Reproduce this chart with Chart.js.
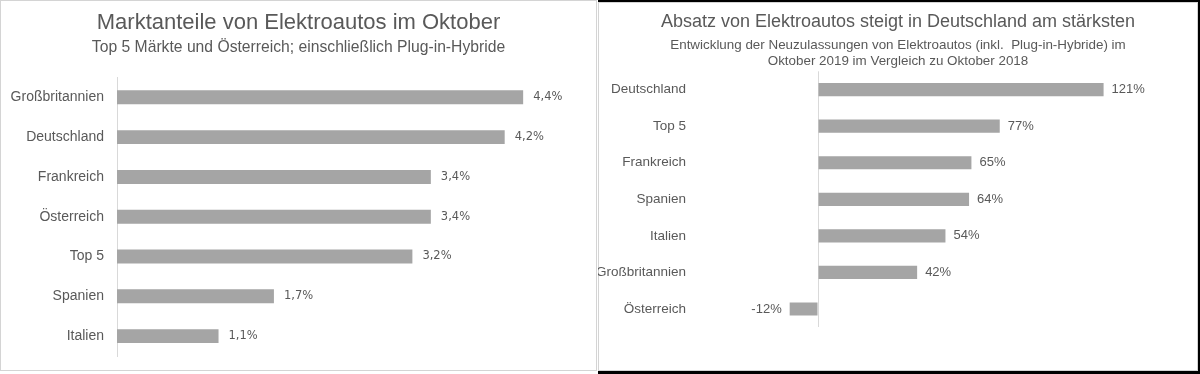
<!DOCTYPE html>
<html>
<head>
<meta charset="utf-8">
<script src="https://cdn.jsdelivr.net/npm/chart.js@4"></script>
<style>
  html, body { margin: 0; padding: 0; background: #ffffff; }
  body { width: 1200px; height: 374px; position: relative; overflow: hidden; }
  .abs { position: absolute; }
  #leftFrame { left: 0; top: 0; width: 597px; height: 371px; border: 1px solid #d4d4d4; box-sizing: border-box; background: #fff; }
  #rightBlack { left: 598px; top: 0; width: 602px; height: 374px; background: #000; }
  #rightFrame { left: 598px; top: 2px; width: 600px; height: 369px; border: 1px solid #d4d4d4; box-sizing: border-box; background: #fff; }
  canvas { position: absolute; }
  #leftChart { left: 0; top: 0; }
  #rightChart { left: 598px; top: 0; }
</style>
</head>
<body>
<div id="leftFrame" class="abs"></div>
<div id="rightBlack" class="abs"></div>
<div id="rightFrame" class="abs"></div>
<canvas id="leftChart" width="597" height="371"></canvas>
<canvas id="rightChart" width="600" height="371"></canvas>
<script>
// ---- Data ----
const leftTitle = 'Marktanteile von Elektroautos im Oktober';
const leftSubtitle = 'Top 5 Märkte und Österreich; einschließlich Plug-in-Hybride';
const leftCategories = ['Großbritannien', 'Deutschland', 'Frankreich', 'Österreich', 'Top 5', 'Spanien', 'Italien'];
const leftValues = [4.4, 4.2, 3.4, 3.4, 3.2, 1.7, 1.1];

const rightTitle = 'Absatz von Elektroautos steigt in Deutschland am stärksten';
const rightSubtitle = ['Entwicklung der Neuzulassungen von Elektroautos (inkl.  Plug-in-Hybride) im', 'Oktober 2019 im Vergleich zu Oktober 2018'];
const rightCategories = ['Deutschland', 'Top 5', 'Frankreich', 'Spanien', 'Italien', 'Großbritannien', 'Österreich'];
const rightValues = [121, 77, 65, 64, 54, 42, -12];

// ---- Styling ----
const TEXT = '#595959';
const BAR = '#a5a5a5';
const AXIS = '#d9d9d9';

function valueLabelPlugin(id, fmt, font, offset) {
  return {
    id: id,
    afterDatasetsDraw(chart) {
      const ctx = chart.ctx;
      const meta = chart.getDatasetMeta(0);
      const data = chart.data.datasets[0].data;
      ctx.save();
      ctx.font = font;
      ctx.fillStyle = TEXT;
      ctx.textBaseline = 'middle';
      meta.data.forEach((el, i) => {
        const v = data[i];
        if (v >= 0) {
          ctx.textAlign = 'left';
          ctx.fillText(fmt(v), el.x + offset, el.y);
        } else {
          ctx.textAlign = 'right';
          ctx.fillText(fmt(v), el.x - offset, el.y);
        }
      });
      ctx.restore();
    }
  };
}

function fixY(width) {
  return (scale) => {
    scale.width = width;
    scale.paddingTop = 0;
    scale.paddingBottom = 0;
  };
}

Chart.defaults.font.family = '"Liberation Sans", Arial, sans-serif';
Chart.defaults.color = TEXT;

// ---- Left chart ----
new Chart(document.getElementById('leftChart'), {
  type: 'bar',
  data: {
    labels: leftCategories,
    datasets: [{
      data: leftValues,
      backgroundColor: BAR,
      borderWidth: 0,
      categoryPercentage: 1,
      barPercentage: 0.35
    }]
  },
  options: {
    indexAxis: 'y',
    responsive: false,
    animation: false,
    devicePixelRatio: 1,
    layout: { padding: { left: 0, right: 0, top: 0, bottom: 15 } },
    plugins: {
      legend: { display: false },
      tooltip: { enabled: false },
      title: {
        display: true,
        text: leftTitle,
        color: TEXT,
        font: { size: 22, weight: 'normal', lineHeight: 1.2 },
        padding: { top: 10, bottom: 0 }
      },
      subtitle: {
        display: true,
        text: leftSubtitle,
        color: TEXT,
        font: { size: 15.7, weight: 'normal', lineHeight: 1.2 },
        padding: { top: 1.9, bottom: 20.3 }
      }
    },
    scales: {
      x: {
        display: false,
        min: 0,
        max: 5.2
      },
      y: {
        grid: { display: false, drawTicks: false },
        border: { display: true, color: AXIS, width: 1 },
        ticks: { color: TEXT, font: { size: 14 }, padding: 13 },
        afterFit: fixY(117)
      }
    }
  },
  plugins: [valueLabelPlugin('leftLabels', v => v.toFixed(1).replace('.', ',') + '%', '11.5px "DejaVu Sans", Verdana, sans-serif', 10)]
});

// ---- Right chart ----
new Chart(document.getElementById('rightChart'), {
  type: 'bar',
  data: {
    labels: rightCategories,
    datasets: [{
      data: rightValues,
      backgroundColor: BAR,
      borderWidth: 0,
      categoryPercentage: 1,
      barPercentage: 0.36
    }]
  },
  options: {
    indexAxis: 'y',
    responsive: false,
    animation: false,
    devicePixelRatio: 1,
    layout: { padding: { left: 0, right: 0, top: 0, bottom: 43.7 } },
    plugins: {
      legend: { display: false },
      tooltip: { enabled: false },
      title: {
        display: true,
        text: rightTitle,
        color: TEXT,
        font: { size: 18, weight: 'normal', lineHeight: 1.2 },
        padding: { top: 11.7, bottom: 0 }
      },
      subtitle: {
        display: true,
        text: rightSubtitle,
        color: TEXT,
        font: { size: 13.4, weight: 'normal', lineHeight: 1.194 },
        padding: { top: 4.2, bottom: 1.8 }
      }
    },
    scales: {
      x: {
        display: true,
        min: -50,
        max: 161,
        ticks: { display: false, stepSize: 50 },
        grid: {
          drawTicks: false,
          color: (ctx) => (ctx.tick && ctx.tick.value === 0) ? AXIS : 'rgba(0,0,0,0)',
          lineWidth: 1
        },
        border: { display: false },
        afterFit: (scale) => { scale.height = 0; }
      },
      y: {
        grid: { display: false, drawTicks: false },
        border: { display: false },
        ticks: { color: TEXT, font: { size: 13.5 }, padding: 14 },
        afterFit: fixY(102)
      }
    }
  },
  plugins: [valueLabelPlugin('rightLabels', v => v + '%', '13px "Liberation Sans", Arial, sans-serif', 8)]
});
</script>
</body>
</html>
